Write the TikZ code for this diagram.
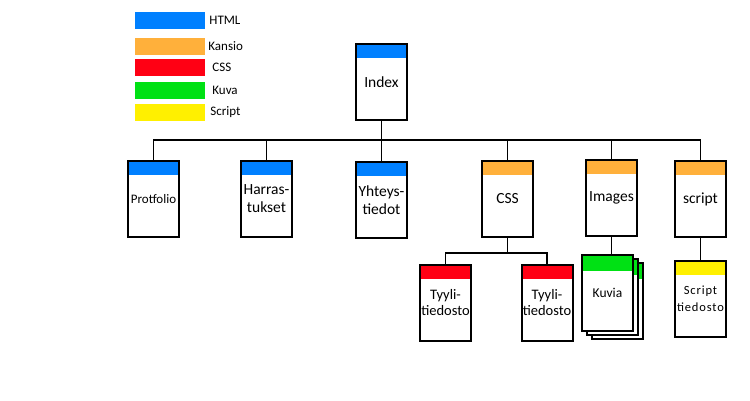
\documentclass[tikz,border=0pt]{standalone}
\usepackage{fontspec}
\setmainfont{Carlito}
\newfontfamily\spacedfont[LetterSpace=7]{Carlito}
\usetikzlibrary{positioning}
\definecolor{htmlblue}{RGB}{0,128,255}
\definecolor{kansio}{RGB}{255,176,59}
\definecolor{cssred}{RGB}{255,0,20}
\definecolor{kuvagreen}{RGB}{0,225,20}
\definecolor{scriptyellow}{RGB}{255,240,0}
\tikzset{
  head/.store in=\headh, head=14,
  page/.style={draw, line width=2pt, fill=white, minimum width=51pt, minimum height=76pt,
    inner sep=0pt, align=center, font=\fontsize{15.5}{18.5}\selectfont,
    path picture={\fill[#1] (path picture bounding box.north west)
      rectangle ([yshift=-\headh pt]path picture bounding box.north east);}},
  page/.default=htmlblue,
  link/.style={line width=1.7pt},
  legbar/.style={minimum width=70pt, minimum height=17pt, inner sep=0pt},
  legtext/.style={inner sep=0pt, font=\fontsize{13}{15}\selectfont}
}

\begin{document}
\begin{tikzpicture}[x=1pt, y=-1pt]
\fill[white] (0,0) rectangle (750,400);
\useasboundingbox (0,0) rectangle (750,400);
% legend
\foreach \c/\y/\g/\t in {htmlblue/20.5/4/HTML, kansio/46/3/Kansio, cssred/67/7/CSS, kuvagreen/90/7/Kuva, scriptyellow/112/5/Script} {
  \node[legbar, fill=\c] (leg\t) at (170,\y) {};
  \node[legtext, right=\g pt of leg\t] {\t};
}
% top level
\node[page] (index) at (381.5,82) {Index};
\node[page, font=\fontsize{13}{15}\selectfont] (portfolio) at (153.5,199) {Protfolio};
\node[page] (harras) at (266.5,198.5) {Harras-\\tukset};
\node[page] (yhteys) at (381.5,200) {Yhteys-\\tiedot};
\node[page=kansio] (css) at (507.5,199) {CSS};
\node[page=kansio] (images) at (611.5,198) {Images};
\node[page=kansio] (script) at (700.5,199) {script};
% files
\node[page=cssred, font=\fontsize{14.5}{16}\selectfont] (tyyli1) at (445.5,303) {Tyyli-\\tiedosto};
\node[page=cssred, font=\fontsize{14.5}{16}\selectfont] (tyyli2) at (547,303) {Tyyli-\\tiedosto};
\node[page=kuvagreen, head=16] (kuvia3) at (617.5,301) {};
\node[page=kuvagreen, head=16] (kuvia2) at (612.5,297) {};
\node[page=kuvagreen, head=16, font=\fontsize{13.5}{15}\selectfont] (kuvia) at (607.5,293) {Kuvia};
\node[page=scriptyellow, font=\spacedfont\fontsize{12.5}{17}\selectfont] (scriptfile) at (700.5,298.5) {Script\\tiedosto};
% connectors
\coordinate (bus) at (381.5,140);
\coordinate (cssbus) at (507.5,253);
\draw[link] (index) -- (bus);
\draw[link] (portfolio.north) -- (portfolio.north |- bus) -- (script.north |- bus) -- (script.north);
\foreach \n in {harras,yhteys,css,images}
  \draw[link] (\n.north) -- (\n.north |- bus);
\draw[link] (css.south) -- (cssbus);
\draw[link] (tyyli1.north) -- (tyyli1.north |- cssbus) -- (tyyli2.north |- cssbus) -- (tyyli2.north);
\draw[link] (images.south) -- (images.south |- kuvia.north);
\draw[link] (script.south) -- (scriptfile.north);
\end{tikzpicture}
\end{document}
